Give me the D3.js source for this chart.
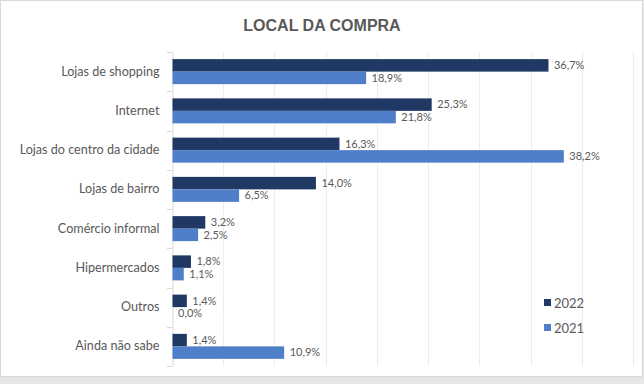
<!DOCTYPE html>
<html>
<head>
<meta charset="utf-8">
<script src="https://cdn.jsdelivr.net/npm/d3@7"></script>
<style>
  body { margin: 0; background: #e6e6e6; }
  svg { display: block; font-family: Lato, "Open Sans", sans-serif; }
</style>
</head>
<body>
<div id="chartContainer"></div>
<script>
// data
const categories = [
  "Lojas de shopping",
  "Internet",
  "Lojas do centro da cidade",
  "Lojas de bairro",
  "Comércio informal",
  "Hipermercados",
  "Outros",
  "Ainda não sabe",
];
const values2022 = [36.7, 25.3, 16.3, 14.0, 3.2, 1.8, 1.4, 1.4];
const values2021 = [18.9, 21.8, 38.2, 6.5, 2.5, 1.1, 0.0, 10.9];
const seriesNames = ["2022", "2021"];
const xTicks = [0, 5, 10, 15, 20, 25, 30, 35, 40, 45];

const colors = { "2022": "#1f3864", "2021": "#4f7fc9" };

const W = 644, H = 384;
const margin = { top: 52, right: 11, bottom: 18, left: 172 };
const width = W - margin.left - margin.right,
  height = 366 - margin.top;

const svg = d3
  .select("#chartContainer")
  .append("svg")
  .attr("width", W)
  .attr("height", H);

// chart frame
svg.append("rect")
  .attr("x", 0.5).attr("y", 0.5)
  .attr("width", 642).attr("height", 376)
  .attr("fill", "#fff")
  .attr("stroke", "#d9d9d9");

svg.append("text")
  .attr("x", 322).attr("y", 31)
  .attr("text-anchor", "middle")
  .style("font-family", "'Liberation Sans', Arial, sans-serif")
  .style("font-size", "16px")
  .style("font-weight", "bold")
  .style("fill", "#595959")
  .text("LOCAL DA COMPRA");

const g = svg.append("g")
  .attr("transform", "translate(" + margin.left + "," + margin.top + ")");

const x = d3.scaleLinear().domain([0, 45]).range([0, 461]);
const y = d3.scaleBand().domain(categories).range([0, height]);
const inner = d3.scaleBand().domain(seriesNames).range([0, 25]);
const barOffset = (y.bandwidth() - 25) / 2;

// gridlines
g.append("g")
  .selectAll("line")
  .data(xTicks.slice(1))
  .enter()
  .append("line")
  .attr("x1", (d) => Math.round(x(d)) + 0.5)
  .attr("x2", (d) => Math.round(x(d)) + 0.5)
  .attr("y1", 0)
  .attr("y2", height)
  .attr("stroke", "#ececec");

// y axis with category labels
const yAxis = g.append("g")
  .attr("transform", "translate(0.5,0)")
  .call(d3.axisLeft(y).tickSize(0).tickPadding(13));
yAxis.select(".domain").attr("stroke", "#d9d9d9");
yAxis.selectAll("text")
  .style("font-family", "Lato, 'Open Sans', sans-serif")
  .style("font-size", "12.6px")
  .style("fill", "#595959");

// tick marks at category boundaries
g.append("g")
  .selectAll("line")
  .data(d3.range(categories.length + 1))
  .enter()
  .append("line")
  .attr("x1", -5).attr("x2", 0)
  .attr("y1", (i) => Math.round(i * y.step()) + 0.5)
  .attr("y2", (i) => Math.round(i * y.step()) + 0.5)
  .attr("stroke", "#d9d9d9");

const rows = categories.map((c, i) => ({
  category: c,
  values: [
    { series: "2022", value: values2022[i] },
    { series: "2021", value: values2021[i] },
  ],
}));

const groups = g.selectAll(".row")
  .data(rows)
  .enter()
  .append("g")
  .attr("class", "row")
  .attr("transform", (d) => "translate(0," + (y(d.category) + barOffset) + ")");

groups.selectAll("rect")
  .data((d) => d.values)
  .enter()
  .append("rect")
  .attr("x", 0.5)
  .attr("y", (d) => inner(d.series))
  .attr("width", (d) => x(d.value))
  .attr("height", inner.bandwidth())
  .attr("fill", (d) => colors[d.series]);

groups.selectAll(".val")
  .data((d) => d.values)
  .enter()
  .append("text")
  .attr("class", "val")
  .attr("x", (d) => x(d.value) + 6)
  .attr("y", (d) => inner(d.series) + inner.bandwidth() / 2)
  .attr("dy", "0.35em")
  .style("font-size", "11px")
  .style("fill", "#595959")
  .text((d) => d3.format(".1f")(d.value).replace(".", ",") + "%");

// legend
const legend = svg.append("g").attr("transform", "translate(544,299)");
seriesNames.forEach((s, i) => {
  const item = legend.append("g").attr("transform", "translate(0," + i * 25 + ")");
  item.append("rect").attr("width", 7).attr("height", 7).attr("fill", colors[s]);
  item.append("text")
    .attr("x", 10).attr("y", 4)
    .attr("dy", "0.35em")
    .style("font-size", "13px")
    .style("fill", "#595959")
    .text(s);
});
</script>
</body>
</html>
